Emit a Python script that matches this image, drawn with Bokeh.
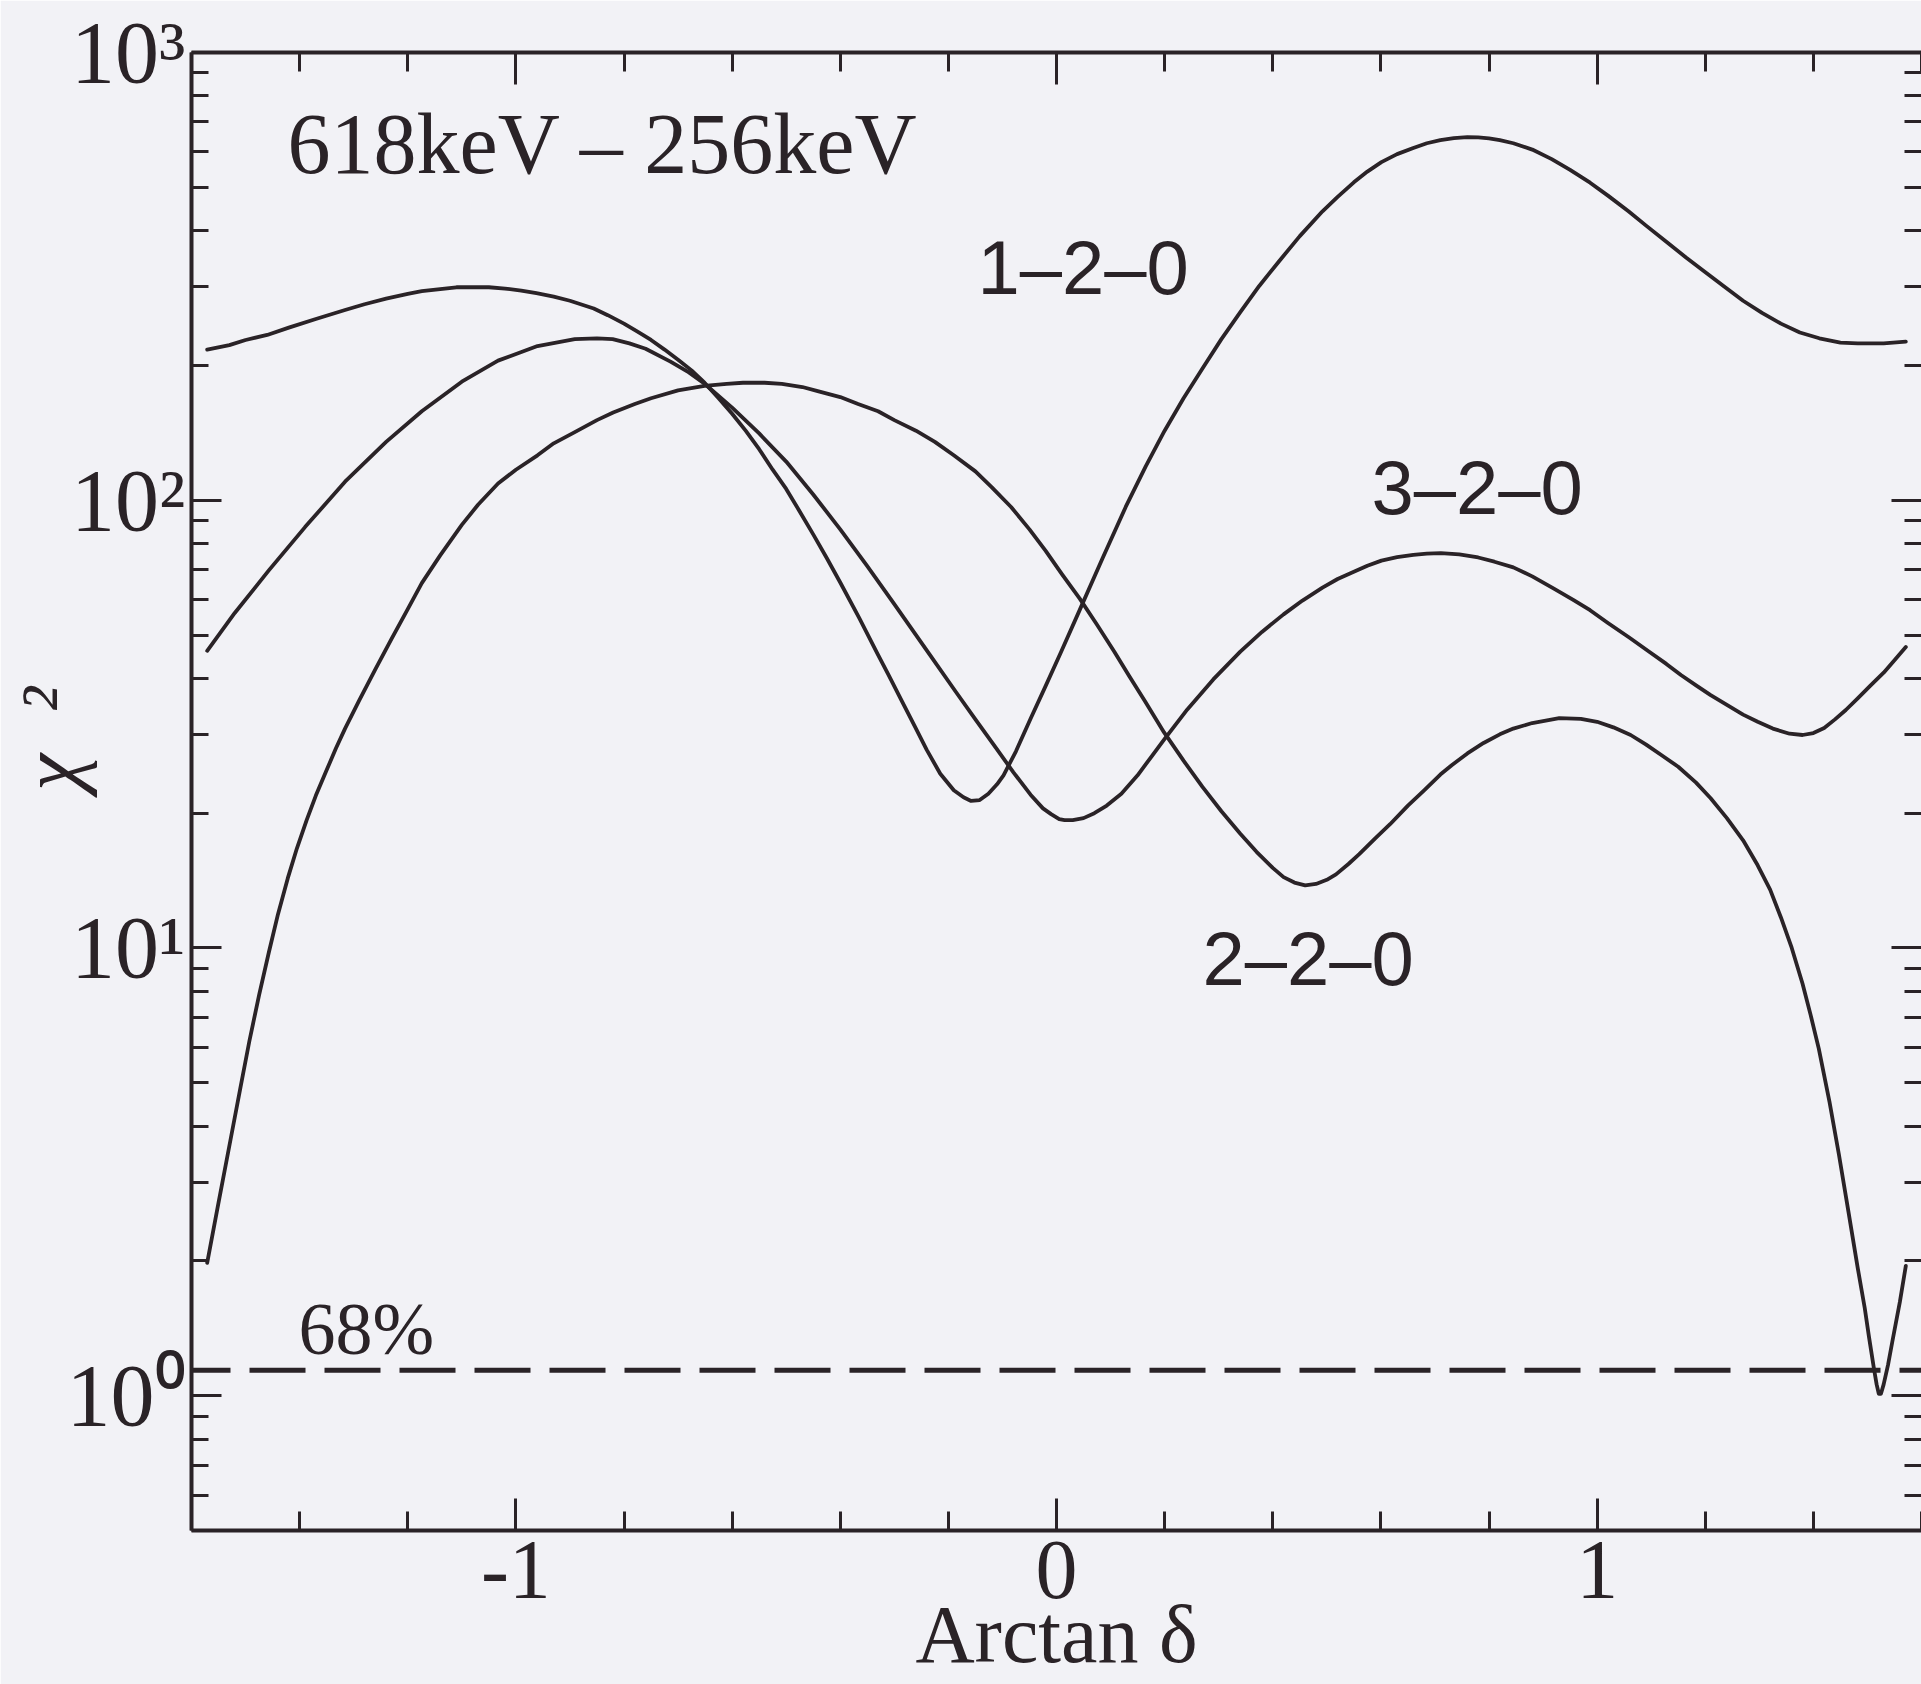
from math import log10

from bokeh.embed import file_html
from bokeh.models import FixedTicker, Label, LinearAxis, LogAxis
from bokeh.plotting import figure
from bokeh.resources import INLINE

# ---- chi-square versus arctan(delta), 618 keV -> 256 keV transition ----
x_120 = [-1.571, -1.53, -1.50, -1.46, -1.42, -1.37, -1.316, -1.28, -1.24, -1.20,
         -1.174, -1.14, -1.11, -1.082, -1.05, -1.02, -0.99, -0.962, -0.93, -0.90,
         -0.856, -0.83, -0.80, -0.775, -0.750, -0.725, -0.70, -0.675, -0.651, -0.625,
         -0.60, -0.575, -0.55, -0.525, -0.50, -0.475, -0.45, -0.425, -0.40, -0.365,
         -0.331, -0.31, -0.286, -0.263, -0.240, -0.215, -0.190, -0.172, -0.158, -0.142,
         -0.126, -0.11, -0.098, -0.075, -0.048, -0.02, 0.008, 0.043, 0.085, 0.128,
         0.165, 0.20, 0.235, 0.270, 0.305, 0.34, 0.375, 0.411, 0.45, 0.492,
         0.52, 0.55, 0.575, 0.601, 0.63, 0.66, 0.685, 0.71, 0.735, 0.760,
         0.78, 0.80, 0.82, 0.845, 0.88, 0.916, 0.95, 0.987, 1.02, 1.058,
         1.09, 1.128, 1.165, 1.199, 1.235, 1.270, 1.305, 1.340, 1.375, 1.411,
         1.45, 1.482, 1.53, 1.571]
chi2_120 = [217, 222, 228, 234, 243, 254, 266, 274, 282, 289,
            293, 296, 299, 299, 299, 297, 294, 290, 285, 279,
            268, 259, 248, 238, 228, 217, 206, 195, 183, 169,
            156, 143, 130, 117, 106, 94.4, 83.9, 74.3, 65.5, 54.6,
            45.4, 40.6, 35.6, 31.4, 27.7, 24.5, 22.5, 21.7, 21.3, 21.4,
            22.1, 23.2, 24.3, 27.5, 32.5, 38.5, 45.7, 56.9, 74.1, 96.6,
            119, 143, 169, 197, 229, 263, 301, 341, 389, 442,
            476, 513, 542, 569, 593, 612, 627, 637, 644, 647,
            646, 643, 637, 627, 607, 578, 547, 512, 479, 442,
            411, 378, 348, 324, 300, 279, 262, 248, 237, 230,
            225, 224, 224, 226]

x_320 = [-1.571, -1.52, -1.457, -1.39, -1.316, -1.24, -1.174, -1.10, -1.033, -0.96,
         -0.891, -0.85, -0.821, -0.79, -0.76, -0.714, -0.68, -0.651, -0.60, -0.55,
         -0.50, -0.45, -0.40, -0.35, -0.30, -0.24, -0.186, -0.15, -0.112, -0.08,
         -0.048, -0.025, -0.01, 0.005, 0.015, 0.03, 0.05, 0.07, 0.093, 0.12,
         0.15, 0.175, 0.199, 0.242, 0.29, 0.34, 0.38, 0.42, 0.455, 0.492,
         0.52, 0.55, 0.575, 0.601, 0.63, 0.66, 0.685, 0.711, 0.745, 0.78,
         0.81, 0.845, 0.88, 0.92, 0.955, 0.987, 1.02, 1.06, 1.095, 1.128,
         1.155, 1.183, 1.21, 1.24, 1.27, 1.297, 1.325, 1.356, 1.38, 1.40,
         1.42, 1.44, 1.46, 1.482, 1.505, 1.53, 1.55, 1.571]
chi2_320 = [46.1, 56.0, 69.7, 87.1, 110, 135, 158, 184, 205, 221,
            229, 230, 229, 224, 218, 204, 193, 182, 161, 141,
            122, 103, 86.1, 71.3, 58.6, 46.2, 37.3, 32.4, 28.0, 24.7,
            22.0, 20.5, 19.9, 19.4, 19.3, 19.3, 19.5, 20.0, 20.8, 22.1,
            24.3, 26.7, 29.2, 34.1, 39.8, 45.9, 50.8, 55.6, 59.7, 63.8,
            66.7, 69.2, 71.4, 73.3, 74.6, 75.5, 76.0, 76.2, 75.7, 74.5,
            72.9, 70.8, 67.6, 63.5, 60.0, 56.8, 53.2, 49.3, 46.0, 43.1,
            40.7, 38.6, 36.7, 34.9, 33.2, 32.0, 30.9, 30.1, 29.9, 30.2,
            31.0, 32.4, 34.0, 36.1, 38.5, 41.2, 43.9, 47.0]

x_220 = [-1.571, -1.55, -1.528, -1.51, -1.493, -1.475, -1.457, -1.44, -1.422, -1.405,
         -1.387, -1.37, -1.351, -1.333, -1.316, -1.290, -1.26, -1.23, -1.20, -1.174,
         -1.14, -1.10, -1.07, -1.033, -1.00, -0.96, -0.93, -0.891, -0.85, -0.82,
         -0.78, -0.750, -0.70, -0.651, -0.61, -0.58, -0.54, -0.508, -0.47, -0.44,
         -0.40, -0.367, -0.33, -0.30, -0.26, -0.225, -0.19, -0.15, -0.12, -0.084,
         -0.05, -0.02, 0.01, 0.043, 0.075, 0.107, 0.135, 0.164, 0.199, 0.235,
         0.270, 0.305, 0.340, 0.37, 0.40, 0.42, 0.44, 0.46, 0.48, 0.50,
         0.517, 0.54, 0.56, 0.59, 0.617, 0.65, 0.68, 0.71, 0.731, 0.76,
         0.79, 0.82, 0.845, 0.88, 0.93, 0.97, 1.00, 1.03, 1.062, 1.09,
         1.12, 1.15, 1.183, 1.21, 1.24, 1.27, 1.297, 1.32, 1.34, 1.36,
         1.38, 1.395, 1.41, 1.43, 1.447, 1.465, 1.482, 1.495, 1.503, 1.512,
         1.517, 1.521, 1.525, 1.530, 1.538, 1.546, 1.56, 1.571]
chi2_220 = [1.98, 2.70, 3.72, 4.84, 6.19, 7.85, 9.77, 11.9, 14.3, 16.7,
            19.3, 21.9, 24.8, 27.9, 30.9, 35.7, 41.9, 49.0, 57.1, 65.3,
            75.3, 88.1, 97.7, 109, 117, 126, 134, 142, 151, 157,
            164, 169, 176, 180, 182, 183, 183, 182, 179, 175,
            170, 164, 158, 151, 143, 135, 126, 116, 107, 96.6,
            86.1, 77.1, 68.4, 60.3, 52.7, 45.9, 40.4, 35.5, 30.3, 26.2,
            22.9, 20.2, 18.0, 16.4, 15.1, 14.4, 14.0, 13.8, 13.9, 14.2,
            14.6, 15.4, 16.2, 17.6, 18.9, 20.8, 22.5, 24.4, 25.6, 27.2,
            28.7, 30.0, 30.9, 31.8, 32.6, 32.5, 32.0, 31.1, 29.9, 28.5,
            26.9, 25.4, 23.4, 21.6, 19.5, 17.4, 15.3, 13.5, 11.7, 10.0,
            8.32, 7.08, 5.96, 4.52, 3.47, 2.57, 1.93, 1.57, 1.35, 1.15,
            1.06, 1.01, 1.01, 1.06, 1.17, 1.32, 1.62, 1.95]

conf68_level = 1.14
series_names = ["1\u20132\u20130", "3\u20132\u20130", "2\u20132\u20130"]
x_major = [-1, 0, 1]
x_major_labels = ["-1", "0", "1"]
y_major = [1, 10, 100, 1000]
y_major_labels = ["10\u2070", "10\u00b9", "10\u00b2", "10\u00b3"]

# ---- page geometry ----
W, H = 1921, 1684
FRAME_L, FRAME_T, FRAME_W, FRAME_H = 191, 52, 1730, 1478
X_LO, X_HI = -1.6, 1.6
Y_LO, Y_HI = 0.5, 1000
INK = "#2a2327"
BG = "#f2f2f6"
SERIF = "Liberation Serif"
SANS = "Liberation Sans"
NBSP = "\u00a0"

LOG_LO, LOG_HI = log10(Y_LO), log10(Y_HI)


def data_x(px):
    return X_LO + (px - FRAME_L) * (X_HI - X_LO) / FRAME_W


def data_y(py):
    return 10 ** (LOG_HI - (py - FRAME_T) * (LOG_HI - LOG_LO) / FRAME_H)


p = figure(width=W, height=H, x_range=(X_LO, X_HI), y_range=(Y_LO, Y_HI),
           y_axis_type="log", output_backend="svg", toolbar_location=None,
           min_border_left=FRAME_L, min_border_right=0, min_border_top=FRAME_T,
           min_border_bottom=H - FRAME_T - FRAME_H,
           background_fill_color=BG, border_fill_color=BG, outline_line_color=None)
p.xgrid.visible = False
p.ygrid.visible = False

x_minor = [round(-1.6 + 0.2 * i, 1) for i in range(17)]
x_minor = [v for v in x_minor if v not in x_major]
y_minor = [m * 10 ** e for e in (-1, 0, 1, 2) for m in range(2, 10) if Y_LO <= m * 10 ** e <= Y_HI]

x_ticker = FixedTicker(ticks=x_major, minor_ticks=x_minor)
y_ticker = FixedTicker(ticks=y_major, minor_ticks=y_minor)


def style_axis(ax, major_len, minor_len):
    ax.major_tick_in = major_len
    ax.major_tick_out = 0
    ax.minor_tick_in = minor_len
    ax.minor_tick_out = 0
    ax.major_tick_line_width = 3
    ax.minor_tick_line_width = 3
    ax.major_tick_line_color = INK
    ax.minor_tick_line_color = INK
    ax.axis_line_width = 4
    ax.axis_line_color = INK
    ax.major_label_text_color = INK
    ax.major_label_text_font = SERIF
    ax.axis_label_text_color = INK
    ax.axis_label_text_font = SERIF
    ax.axis_label_text_font_style = "normal"


def hide_labels(ax):
    ax.major_label_text_font_size = "1px"
    ax.major_label_text_color = None
    ax.major_label_standoff = 0
    ax.axis_label_standoff = 0


# bottom axis: numbers and title
bottom = p.xaxis[0]
bottom.ticker = x_ticker
style_axis(bottom, 32, 19)
bottom.major_label_overrides = dict(zip(x_major, x_major_labels))
bottom.major_label_text_font_size = "84px"
bottom.major_label_standoff = 11
bottom.axis_label = "Arctan \u03b4"
bottom.axis_label_text_font_size = "82px"
bottom.axis_label_standoff = -12

# left axis: powers of ten and chi-square title
left = p.yaxis[0]
left.ticker = y_ticker
style_axis(left, 30, 17)
left.major_label_overrides = dict(zip(y_major, y_major_labels))
left.major_label_text_font_size = "88px"
left.major_label_standoff = 6
left.axis_label = NBSP * 5 + "\u03c7\u2002\u00b2"
left.axis_label_text_font_size = "84px"
left.axis_label_text_font_style = "italic"
left.axis_label_standoff = -33

top_axis = LinearAxis(ticker=x_ticker)
style_axis(top_axis, 32, 19)
hide_labels(top_axis)
p.add_layout(top_axis, "above")

right_axis = LogAxis(ticker=y_ticker)
style_axis(right_axis, 30, 17)
hide_labels(right_axis)
right_axis.axis_line_color = None
p.add_layout(right_axis, "right")

# ---- curves ----
for xs, ys in ((x_120, chi2_120), (x_320, chi2_320), (x_220, chi2_220)):
    p.line(xs, ys, line_color=INK, line_width=3.8, line_join="round", line_cap="round")

# 68% confidence level
p.line([X_LO, X_HI], [conf68_level, conf68_level], line_color=INK, line_width=4.8,
       line_dash="56 19", line_dash_offset=17)


def add_text(px, py, text, font=SERIF, size=86):
    # Label places alphabetic text about 0.37 em below the anchor; compensate
    p.add_layout(Label(x=data_x(px), y=data_y(py - 0.37 * size), text=text, text_font=font,
                       text_font_size=f"{size}px", text_align="left",
                       text_baseline="alphabetic", text_color=INK))


# in-plot annotations
add_text(287, 175, "618keV \u2013 256keV", size=86)
add_text(977, 295, series_names[0], font=SANS, size=76)
add_text(1371, 515, series_names[1], font=SANS, size=76)
add_text(1202, 986, series_names[2], font=SANS, size=76)
add_text(298, 1356, "68%", size=74)

open("out.html", "w").write(file_html(p, INLINE))
